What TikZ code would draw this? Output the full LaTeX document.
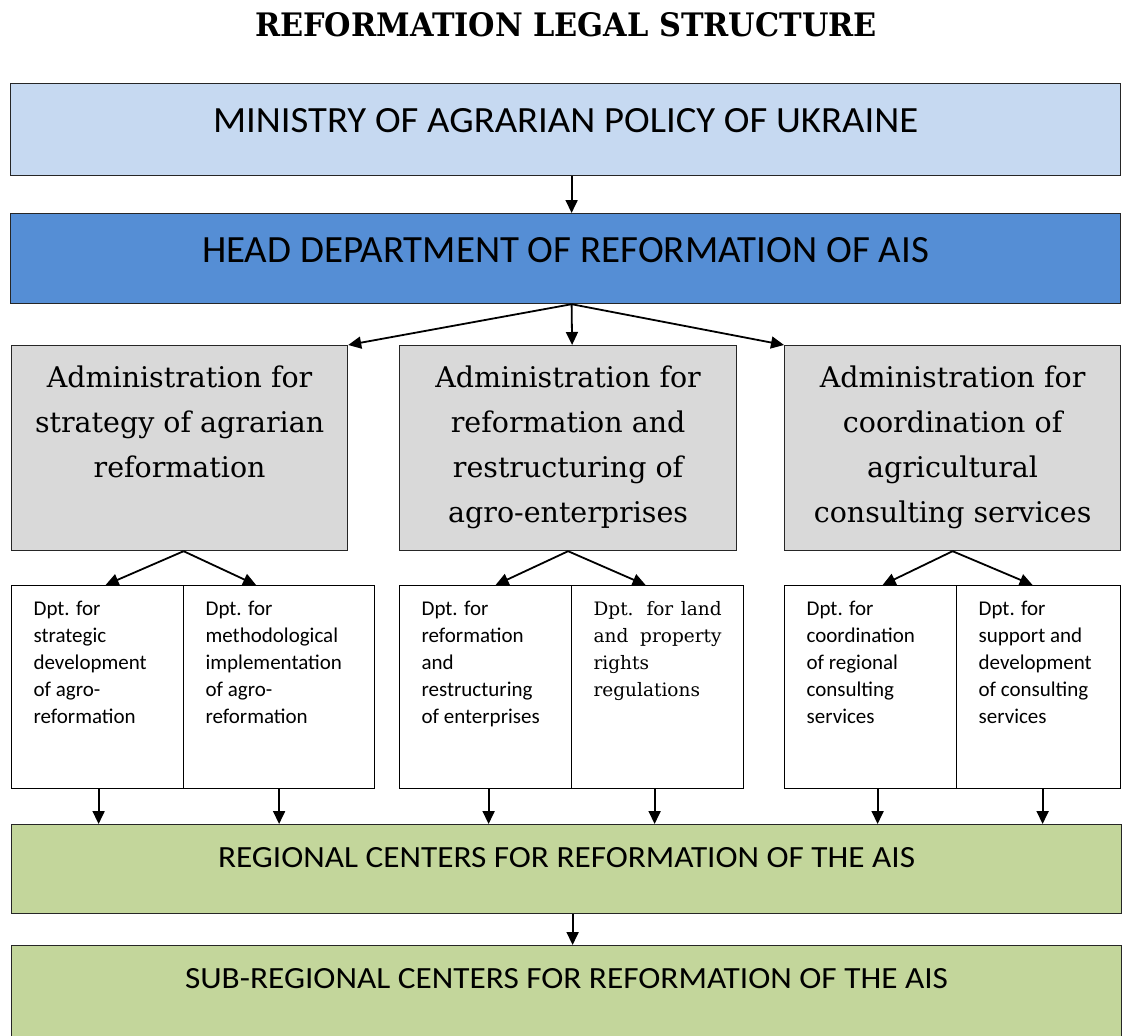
\documentclass[tikz,border=0pt]{standalone}
\usepackage{fontspec}
\setsansfont{Carlito}
\newfontfamily\admserif{DejaVu Serif}
\usepackage{graphicx}
\usetikzlibrary{arrows.meta}
\definecolor{minblue}{HTML}{C6D9F1}
\definecolor{headblue}{HTML}{558ED5}
\definecolor{admgray}{HTML}{D9D9D9}
\definecolor{regreen}{HTML}{C3D69B}
% #1 width, #2 height, #3 first baseline from top, #4 font, #5 text
\newcommand{\boxtext}[5]{\parbox[c][#2][t]{#1}{#4\centering\rule{0pt}{#3}#5\par}}
\newcommand{\dpttext}[3]{\parbox[c][203pt][t]{#1}{#2\raggedright\leftskip=22pt\relax\rule{0pt}{30pt}#3\par}}
\newcommand{\admfont}{\admserif\fontsize{28.5pt}{45pt}\selectfont}
\newcommand{\dptsans}{\sffamily\fontsize{21pt}{27pt}\selectfont}
\newcommand{\dptserif}{\admserif\fontsize{18.5pt}{27pt}\selectfont}
\begin{document}
\begin{tikzpicture}[x=1pt,y=-1pt,
  bigbox/.style={draw=black!85, line width=1.2pt, inner sep=0pt, anchor=north west},
  dptbox/.style={draw=black, line width=1.2pt, fill=white, inner sep=0pt, anchor=north west},
  conn/.style={line width=1.8pt, -{Triangle[length=13pt,width=12pt]}}]
\useasboundingbox (0,0) rectangle (1123,1035);
\node[inner sep=0pt, anchor=south] (title) at (566,37)
  {\resizebox{622pt}{24pt}{\admserif\bfseries REFORMATION LEGAL STRUCTURE}};
\node[bigbox, fill=minblue] (min) at (10,83)
  {\boxtext{1110pt}{92pt}{49pt}{\sffamily}{\resizebox{705pt}{24pt}{MINISTRY OF AGRARIAN POLICY OF UKRAINE}}};
\node[bigbox, fill=headblue] (head) at (10,213)
  {\boxtext{1110pt}{90pt}{49pt}{\sffamily}{\resizebox{727pt}{25pt}{HEAD DEPARTMENT OF REFORMATION OF AIS}}};
\node[bigbox, fill=admgray] (g1) at (11,345)
  {\boxtext{336pt}{205pt}{42pt}{\admfont}{Administration for\\ strategy of agrarian\\ reformation}};
\node[bigbox, fill=admgray] (g2) at (399,345)
  {\boxtext{337pt}{205pt}{42pt}{\admfont}{Administration for\\ reformation and\\ restructuring of\\ agro-enterprises}};
\node[bigbox, fill=admgray] (g3) at (784,345)
  {\boxtext{336pt}{205pt}{42pt}{\admfont}{Administration for\\ coordination of\\ agricultural\\ consulting services}};
\node[dptbox] (d1) at (11,585) {\dpttext{172pt}{\dptsans}{Dpt. for\\ strategic\\ development\\ of agro-\\ reformation}};
\node[dptbox] (d2) at (183,585) {\dpttext{191pt}{\dptsans}{Dpt. for\\ methodological\\ implementation\\ of agro-\\ reformation}};
\node[dptbox] (d3) at (399,585) {\dpttext{172pt}{\dptsans}{Dpt. for\\ reformation\\ and\\ restructuring\\ of enterprises}};
\node[dptbox] (d4) at (571,585) {\dpttext{172pt}{\dptserif}{\makebox[128pt][s]{Dpt. for land}\\ \makebox[128pt][s]{and property}\\ rights\\ regulations}};
\node[dptbox] (d5) at (784,585) {\dpttext{172pt}{\dptsans}{Dpt. for\\ coordination\\ of regional\\ consulting\\ services}};
\node[dptbox] (d6) at (956,585) {\dpttext{164pt}{\dptsans}{Dpt. for\\ support and\\ development\\ of consulting\\ services}};
\node[bigbox, fill=regreen] (reg) at (11,824)
  {\boxtext{1110pt}{89pt}{43pt}{\sffamily}{\resizebox{697pt}{20pt}{REGIONAL CENTERS FOR REFORMATION OF THE AIS}}};
\node[bigbox, fill=regreen] (sub) at (11,945)
  {\boxtext{1110pt}{110pt}{43pt}{\sffamily}{\resizebox{763pt}{20pt}{SUB-REGIONAL CENTERS FOR REFORMATION OF THE AIS}}};
% connectors
\draw[conn] ([xshift=6pt]min.south) -- ([xshift=6pt]head.north);
\draw[conn] ([xshift=6pt]head.south) -- (g1.north east);
\draw[conn] ([xshift=6pt]head.south) -- ([xshift=4pt]g2.north);
\draw[conn] ([xshift=6pt]head.south) -- (g3.north west);
\draw[conn] ([xshift=4pt]g1.south) -- ([xshift=8pt]d1.north);
\draw[conn] ([xshift=4pt]g1.south) -- ([xshift=-23pt]d2.north);
\draw[conn] (g2.south) -- ([xshift=10pt]d3.north);
\draw[conn] (g2.south) -- ([xshift=-12pt]d4.north);
\draw[conn] (g3.south) -- ([xshift=12pt]d5.north);
\draw[conn] (g3.south) -- ([xshift=-6pt]d6.north);
\coordinate (t1) at ([xshift=1pt]d1.south);
\coordinate (t2) at (d2.south);
\coordinate (t3) at ([xshift=3pt]d3.south);
\coordinate (t4) at ([xshift=-3pt]d4.south);
\coordinate (t5) at ([xshift=7pt]d5.south);
\coordinate (t6) at ([xshift=4pt]d6.south);
\foreach \t in {t1,t2,t3,t4,t5,t6}
  \draw[conn] (\t) -- (\t |- reg.north);
\draw[conn] ([xshift=6pt]reg.south) -- ([xshift=6pt]sub.north);
\end{tikzpicture}
\end{document}
